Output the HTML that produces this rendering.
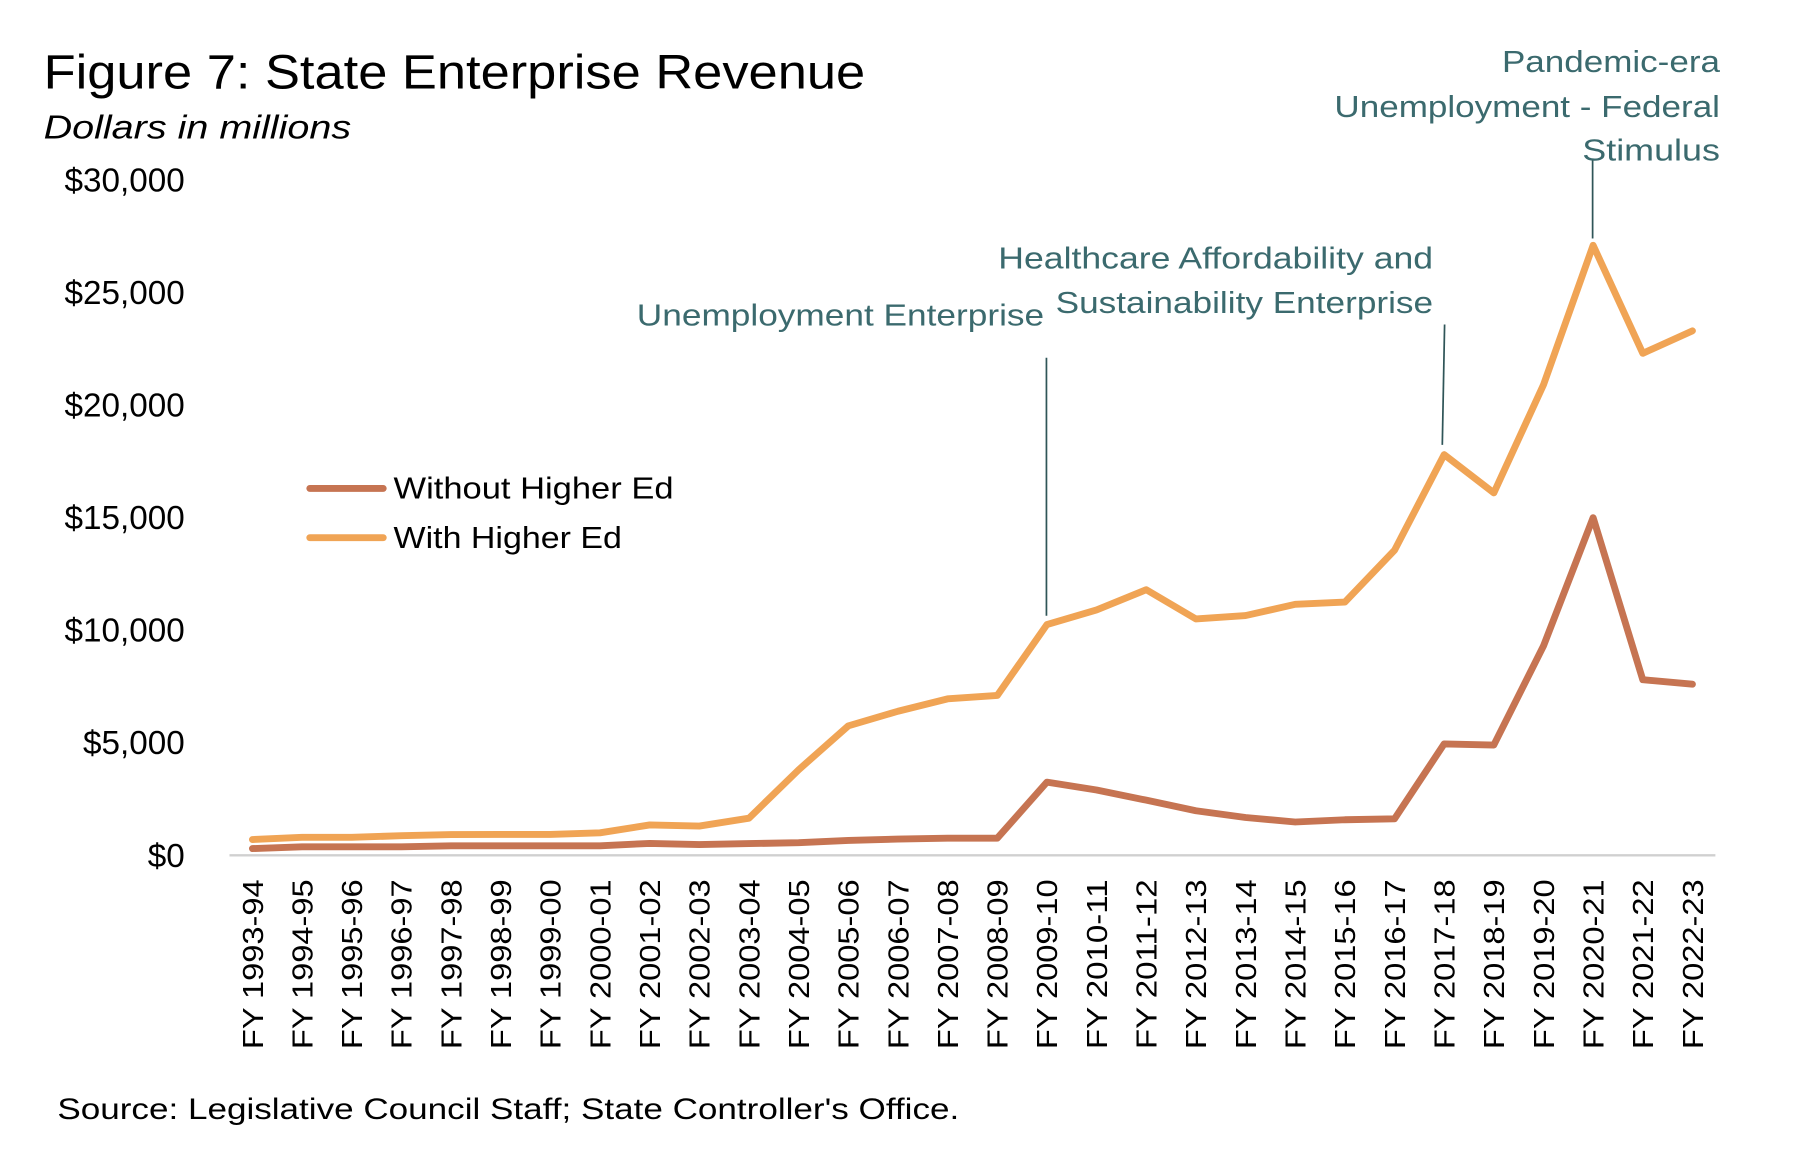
<!DOCTYPE html>
<html><head><meta charset="utf-8"><style>
html,body{margin:0;padding:0;background:#fff;}
svg{display:block;}
text{font-family:"Liberation Sans",sans-serif;}
</style></head><body>
<svg id="chart" width="1798" height="1158" viewBox="0 0 1567 1010" preserveAspectRatio="none" xmlns="http://www.w3.org/2000/svg">
<text x="38" y="77" font-size="42" textLength="716" lengthAdjust="spacingAndGlyphs" fill="#000">Figure 7: State Enterprise Revenue</text>
<text x="38" y="121" font-size="29" textLength="268" lengthAdjust="spacingAndGlyphs" font-style="italic" fill="#000">Dollars in millions</text>
<g id="yticks"></g>
<g id="xticks"></g>
<line x1="200" y1="746" x2="1495" y2="746" stroke="#d0d0d0" stroke-width="2"/>
<g id="series"></g>
<g>
<line x1="270" y1="426" x2="334" y2="426" stroke="#C67452" stroke-width="6" stroke-linecap="round"/>
<text x="343" y="435" font-size="27" textLength="244" lengthAdjust="spacingAndGlyphs">Without Higher Ed</text>
<line x1="270" y1="469" x2="334" y2="469" stroke="#F0A455" stroke-width="6" stroke-linecap="round"/>
<text x="343" y="478" font-size="27" textLength="199" lengthAdjust="spacingAndGlyphs">With Higher Ed</text>
</g>
<g fill="#3B6A6E" font-size="27" text-anchor="end">
<text x="910" y="284" textLength="355" lengthAdjust="spacingAndGlyphs">Unemployment Enterprise</text>
<text x="1249" y="234" textLength="379" lengthAdjust="spacingAndGlyphs">Healthcare Affordability and</text>
<text x="1249" y="273" textLength="329" lengthAdjust="spacingAndGlyphs">Sustainability Enterprise</text>
<text x="1499" y="63" textLength="190" lengthAdjust="spacingAndGlyphs">Pandemic-era</text>
<text x="1499" y="102" textLength="336" lengthAdjust="spacingAndGlyphs">Unemployment - Federal</text>
<text x="1499" y="140" textLength="120" lengthAdjust="spacingAndGlyphs">Stimulus</text>
</g>
<line x1="912" y1="312" x2="912" y2="537" stroke="#2F5558" stroke-width="1.5"/>
<line x1="1259" y1="283" x2="1257" y2="388" stroke="#2F5558" stroke-width="1.5"/>
<line x1="1388" y1="140" x2="1388" y2="208" stroke="#2F5558" stroke-width="1.5"/>
<text x="50" y="976" font-size="26" textLength="786" lengthAdjust="spacingAndGlyphs">Source: Legislative Council Staff; State Controller's Office.</text>
</svg>
<script>
const categories = ["FY 1993-94","FY 1994-95","FY 1995-96","FY 1996-97","FY 1997-98","FY 1998-99","FY 1999-00","FY 2000-01","FY 2001-02","FY 2002-03","FY 2003-04","FY 2004-05","FY 2005-06","FY 2006-07","FY 2007-08","FY 2008-09","FY 2009-10","FY 2010-11","FY 2011-12","FY 2012-13","FY 2013-14","FY 2014-15","FY 2015-16","FY 2016-17","FY 2017-18","FY 2018-19","FY 2019-20","FY 2020-21","FY 2021-22","FY 2022-23"];
const withoutHigherEd = [300,380,380,380,420,420,420,420,530,480,520,560,660,720,760,760,3250,2900,2450,1980,1680,1480,1580,1620,4950,4900,9300,15000,7800,7600];
const withHigherEd = [700,800,800,870,920,930,930,1000,1350,1300,1650,3800,5750,6400,6950,7100,10250,10900,11800,10500,10650,11150,11250,13550,17800,16100,20900,27100,22300,23300];
const yTicks = [0,5000,10000,15000,20000,25000,30000];
const yTickLabels = ["$0","$5,000","$10,000","$15,000","$20,000","$25,000","$30,000"];

const NS = "http://www.w3.org/2000/svg";
const x = i => 220 + i * (1475 - 220) / (categories.length - 1);
const y = v => 746 - v * (746 - 157) / 30000;

const yg = document.getElementById('yticks');
yTicks.forEach((t, i) => {
  const el = document.createElementNS(NS, 'text');
  
  
  el.setAttribute('x', 161);
  el.setAttribute('y', y(t) + 10);
  el.setAttribute('font-size', '29');
  el.setAttribute('text-anchor', 'end');
  el.textContent = yTickLabels[i];
  yg.appendChild(el);
});

const xg = document.getElementById('xticks');
categories.forEach((c, i) => {
  const el = document.createElementNS(NS, 'text');
  
  
  const px = x(i) + 9, py = 767;
  el.setAttribute('transform', `translate(${px},${py}) rotate(-90)`);
  el.setAttribute('font-size', '25');
  el.setAttribute('text-anchor', 'end');
  el.setAttribute('textLength', '148');
  el.setAttribute('lengthAdjust', 'spacingAndGlyphs');
  el.textContent = c;
  xg.appendChild(el);
});

const sg = document.getElementById('series');
function drawLine(vals, color, name) {
  const p = document.createElementNS(NS, 'polyline');
  
  
  p.setAttribute('points', vals.map((v, i) => x(i) + ',' + y(v)).join(' '));
  p.setAttribute('fill', 'none');
  p.setAttribute('stroke', color);
  p.setAttribute('stroke-width', '6');
  p.setAttribute('stroke-linejoin', 'round');
  p.setAttribute('stroke-linecap', 'round');
  sg.appendChild(p);
}
drawLine(withHigherEd, '#F0A455', 'line-with-higher-ed');
drawLine(withoutHigherEd, '#C67452', 'line-without-higher-ed');
</script>
</body></html>
